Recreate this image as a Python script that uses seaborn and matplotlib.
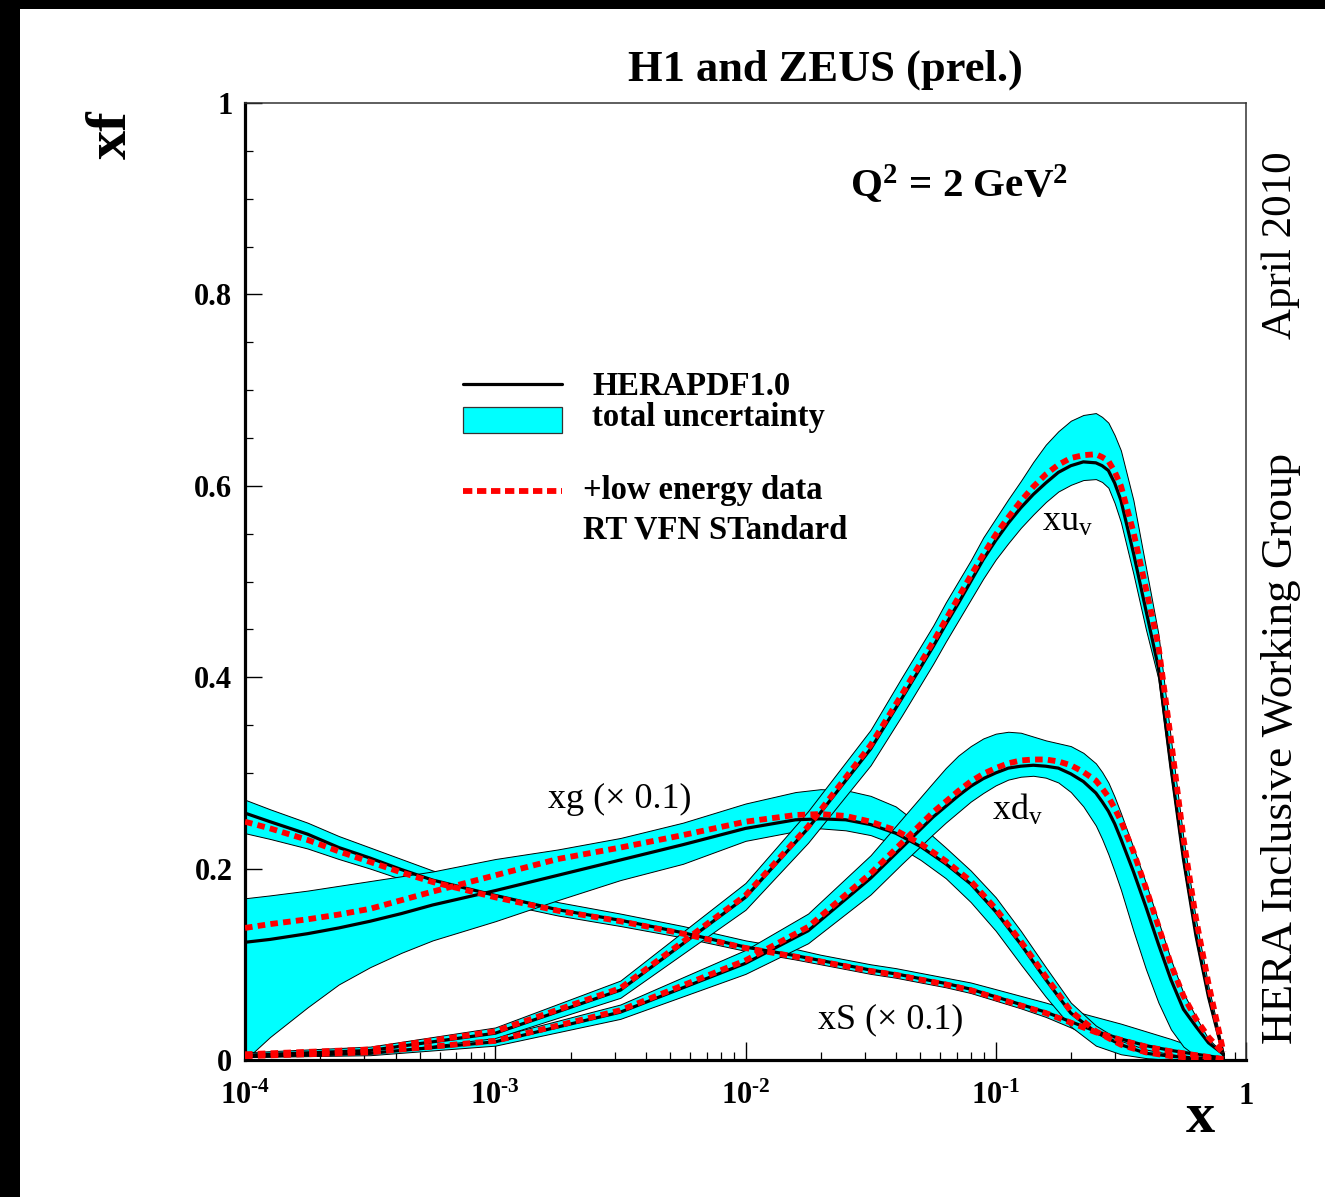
import numpy as np
import pandas as pd
import seaborn as sns
import matplotlib
matplotlib.use("Agg")
import matplotlib.pyplot as plt
from matplotlib.patches import Rectangle
from matplotlib.ticker import FixedLocator, LogLocator, MultipleLocator, NullFormatter

# ---------------- data: parton distributions at Q^2 = 2 GeV^2 ----------------
# log10(x) sampling for the valence distributions
log_x_valence = [-4, -3.5, -3, -2.5, -2, -1.75, -1.5, -1.375, -1.25, -1.2, -1.15, -1.1, -1.05,
                 -1, -0.95, -0.9, -0.85, -0.8, -0.75, -0.7, -0.65, -0.6, -0.575, -0.55, -0.525,
                 -0.5, -0.45, -0.4, -0.35, -0.3, -0.25, -0.2, -0.15, -0.09]
# log10(x) sampling for gluon and sea
log_x_sea = [-4, -3.9, -3.75, -3.625, -3.5, -3.375, -3.25, -3, -2.75, -2.5, -2.25, -2, -1.8,
             -1.7, -1.6, -1.5, -1.4, -1.3, -1.2, -1.1, -1, -0.9, -0.8, -0.7, -0.6, -0.5, -0.4,
             -0.3, -0.2, -0.09]

# xu_v
xuv_central = [0.005, 0.010, 0.028, 0.073, 0.170, 0.242, 0.325, 0.378, 0.432, 0.455, 0.477, 0.500,
               0.523, 0.543, 0.561, 0.577, 0.591, 0.603, 0.614, 0.621, 0.625, 0.624, 0.621, 0.616,
               0.603, 0.585, 0.530, 0.470, 0.410, 0.306, 0.210, 0.130, 0.066, 0.005]
xuv_upper = [0.008, 0.014, 0.034, 0.083, 0.185, 0.260, 0.345, 0.400, 0.454, 0.478, 0.500, 0.522,
             0.546, 0.566, 0.586, 0.605, 0.625, 0.643, 0.657, 0.668, 0.674, 0.676, 0.672, 0.666,
             0.653, 0.637, 0.585, 0.515, 0.445, 0.335, 0.232, 0.147, 0.077, 0.008]
xuv_lower = [0.003, 0.007, 0.023, 0.065, 0.157, 0.227, 0.308, 0.360, 0.414, 0.437, 0.459, 0.481,
             0.503, 0.523, 0.540, 0.556, 0.570, 0.583, 0.594, 0.601, 0.606, 0.607, 0.604, 0.598,
             0.582, 0.562, 0.508, 0.450, 0.398, 0.297, 0.203, 0.125, 0.062, 0.003]
xuv_lowE = [0.006, 0.011, 0.030, 0.075, 0.172, 0.244, 0.329, 0.382, 0.437, 0.460, 0.483, 0.506,
            0.528, 0.549, 0.567, 0.584, 0.599, 0.612, 0.622, 0.629, 0.632, 0.633, 0.630, 0.626,
            0.615, 0.600, 0.552, 0.493, 0.433, 0.335, 0.232, 0.148, 0.080, 0.008]

# xd_v
xdv_central = [0.004, 0.007, 0.019, 0.050, 0.101, 0.135, 0.190, 0.222, 0.254, 0.265, 0.276, 0.286,
               0.294, 0.300, 0.305, 0.307, 0.308, 0.307, 0.305, 0.299, 0.291, 0.279, 0.270, 0.260,
               0.247, 0.231, 0.197, 0.160, 0.121, 0.084, 0.053, 0.035, 0.018, 0.006]
xdv_upper = [0.006, 0.010, 0.024, 0.058, 0.115, 0.153, 0.214, 0.252, 0.290, 0.305, 0.318, 0.328,
             0.336, 0.341, 0.343, 0.342, 0.338, 0.334, 0.331, 0.328, 0.321, 0.310, 0.301, 0.290,
             0.275, 0.258, 0.222, 0.185, 0.145, 0.105, 0.070, 0.045, 0.022, 0.007]
xdv_lower = [0.003, 0.005, 0.015, 0.043, 0.090, 0.122, 0.173, 0.205, 0.236, 0.248, 0.259, 0.270,
             0.279, 0.287, 0.293, 0.296, 0.297, 0.295, 0.290, 0.280, 0.265, 0.245, 0.231, 0.215,
             0.197, 0.178, 0.135, 0.095, 0.060, 0.032, 0.014, 0.004, 0.000, 0.000]
xdv_lowE = [0.004, 0.008, 0.020, 0.052, 0.104, 0.139, 0.195, 0.227, 0.259, 0.270, 0.281, 0.291,
            0.299, 0.305, 0.310, 0.313, 0.314, 0.314, 0.312, 0.308, 0.301, 0.292, 0.284, 0.275,
            0.263, 0.250, 0.218, 0.180, 0.140, 0.100, 0.067, 0.043, 0.024, 0.007]

# xg (scaled by 0.1)
xg_central = [0.123, 0.126, 0.132, 0.138, 0.145, 0.153, 0.162, 0.177, 0.193, 0.209, 0.225, 0.242,
              0.251, 0.252, 0.251, 0.246, 0.237, 0.223, 0.205, 0.184, 0.155, 0.121, 0.084, 0.049,
              0.029, 0.016, 0.007, 0.004, 0.002, 0.000]
xg_upper = [0.169, 0.172, 0.177, 0.182, 0.187, 0.192, 0.197, 0.210, 0.220, 0.232, 0.248, 0.268,
            0.280, 0.283, 0.282, 0.276, 0.265, 0.245, 0.222, 0.198, 0.170, 0.135, 0.097, 0.060,
            0.036, 0.020, 0.011, 0.006, 0.003, 0.001]
xg_lower = [0.000, 0.024, 0.055, 0.079, 0.097, 0.112, 0.125, 0.145, 0.167, 0.188, 0.205, 0.229,
            0.239, 0.242, 0.240, 0.235, 0.225, 0.209, 0.190, 0.165, 0.135, 0.100, 0.066, 0.035,
            0.015, 0.006, 0.002, 0.000, 0.000, 0.000]
xg_lowE = [0.138, 0.142, 0.147, 0.152, 0.158, 0.167, 0.176, 0.193, 0.210, 0.222, 0.235, 0.249,
           0.256, 0.257, 0.255, 0.249, 0.240, 0.226, 0.208, 0.187, 0.158, 0.124, 0.087, 0.051,
           0.030, 0.016, 0.008, 0.004, 0.002, 0.000]

# xS (scaled by 0.1)
xs_central = [0.258, 0.249, 0.236, 0.222, 0.211, 0.199, 0.188, 0.172, 0.157, 0.146, 0.133, 0.118,
              0.109, 0.104, 0.099, 0.094, 0.090, 0.085, 0.080, 0.074, 0.066, 0.058, 0.050, 0.040,
              0.030, 0.022, 0.015, 0.010, 0.006, 0.002]
xs_upper = [0.272, 0.262, 0.248, 0.234, 0.222, 0.210, 0.198, 0.181, 0.165, 0.153, 0.140, 0.125,
            0.116, 0.110, 0.105, 0.100, 0.096, 0.091, 0.086, 0.081, 0.074, 0.067, 0.060, 0.052,
            0.045, 0.038, 0.030, 0.022, 0.013, 0.004]
xs_lower = [0.237, 0.231, 0.221, 0.210, 0.200, 0.189, 0.179, 0.165, 0.151, 0.140, 0.128, 0.114,
            0.105, 0.100, 0.095, 0.090, 0.086, 0.081, 0.076, 0.070, 0.062, 0.054, 0.045, 0.034,
            0.022, 0.012, 0.006, 0.003, 0.001, 0.000]
xs_lowE = [0.249, 0.242, 0.230, 0.218, 0.207, 0.196, 0.186, 0.170, 0.156, 0.145, 0.132, 0.117,
           0.108, 0.103, 0.098, 0.093, 0.089, 0.084, 0.079, 0.073, 0.065, 0.057, 0.049, 0.039,
           0.029, 0.021, 0.014, 0.009, 0.005, 0.001]

x_tick_values = [1e-4, 1e-3, 1e-2, 1e-1, 1]
x_tick_labels = [r"$\mathbf{10^{‐4}}$", r"$\mathbf{10^{‐3}}$", r"$\mathbf{10^{‐2}}$",
                 r"$\mathbf{10^{‐1}}$", r"$\mathbf{1}$"]
y_tick_values = [0, 0.2, 0.4, 0.6, 0.8, 1]
y_tick_labels = ["0", "0.2", "0.4", "0.6", "0.8", "1"]

# ---------------- style ----------------
sns.set_theme(style="ticks")
plt.rcParams["font.family"] = ["Liberation Serif", "DejaVu Serif"]
plt.rcParams["mathtext.fontset"] = "custom"
plt.rcParams["mathtext.rm"] = "Liberation Serif"
plt.rcParams["mathtext.it"] = "Liberation Serif:italic"
plt.rcParams["mathtext.bf"] = "Liberation Serif:bold"
for key in ["text.color", "axes.labelcolor", "xtick.color", "ytick.color", "axes.edgecolor"]:
    plt.rcParams[key] = "black"

CYAN = "#00FFFF"
RED = "#FF0000"

W, H = 1325, 1197
fig = plt.figure(figsize=(W / 100, H / 100), dpi=100)
fig.patch.set_facecolor("white")
ax = fig.add_axes([245 / W, 1 - 1060 / H, 1001 / W, 957 / H])
ax.set_facecolor("white")

curves = [
    ("xS", log_x_sea, xs_central, xs_upper, xs_lower, xs_lowE),
    ("xg", log_x_sea, xg_central, xg_upper, xg_lower, xg_lowE),
    ("xdv", log_x_valence, xdv_central, xdv_upper, xdv_lower, xdv_lowE),
    ("xuv", log_x_valence, xuv_central, xuv_upper, xuv_lower, xuv_lowE),
]

frames = []
for name, lx, c, up, lo, le in curves:
    frames.append(pd.DataFrame({"pdf": name, "x": 10.0 ** np.asarray(lx, float),
                                "central": c, "upper": up, "lower": lo, "lowE": le}))
df = pd.concat(frames, ignore_index=True)

# uncertainty bands with their thin outlines and the central fit
for name, _, _, _, _, _ in curves:
    d = df[df["pdf"] == name]
    ax.fill_between(d["x"], d["lower"], d["upper"], facecolor=CYAN,
                    edgecolor="black", linewidth=0.7, zorder=2)
    sns.lineplot(data=d, x="x", y="central", ax=ax, color="black", lw=2.3,
                 estimator=None, sort=False, zorder=3, legend=False)

# fit including low energy data
for name, _, _, _, _, _ in curves:
    d = df[df["pdf"] == name]
    sns.lineplot(data=d, x="x", y="lowE", ax=ax, color=RED, lw=4.2,
                 estimator=None, sort=False, zorder=4, legend=False)
    ax.lines[-1].set_dashes((1.3, 0.9))

ax.set_xscale("log")
ax.set_xlim(1e-4, 1)
ax.set_ylim(0, 1)
ax.set_xlabel("")
ax.set_ylabel("")

# ticks
ax.xaxis.set_major_locator(FixedLocator(x_tick_values))
ax.set_xticklabels(x_tick_labels)
ax.xaxis.set_minor_locator(LogLocator(base=10, subs=np.arange(2, 10), numticks=20))
ax.xaxis.set_minor_formatter(NullFormatter())
ax.set_yticks(y_tick_values)
ax.set_yticklabels(y_tick_labels)
ax.yaxis.set_minor_locator(MultipleLocator(0.05))

ax.tick_params(axis="x", which="major", direction="in", length=13, width=1.0,
               labelsize=22, pad=32, bottom=True, top=False, colors="black")
ax.tick_params(axis="x", which="minor", direction="in", length=6, width=0.9,
               bottom=True, top=False, colors="black")
ax.tick_params(axis="y", which="major", direction="in", length=12, width=1.0,
               labelsize=22, pad=9, left=True, right=False, colors="black")
ax.tick_params(axis="y", which="minor", direction="in", length=6, width=0.9,
               left=True, right=False, colors="black")
for lab in ax.get_xticklabels():
    lab.set_verticalalignment("baseline")
    lab.set_fontweight("bold")
for lab in ax.get_yticklabels():
    lab.set_fontweight("bold")

for side in ["left", "bottom"]:
    ax.spines[side].set_linewidth(2.3)
    ax.spines[side].set_color("black")
for side in ["top", "right"]:
    ax.spines[side].set_linewidth(1.1)
    ax.spines[side].set_color("#333333")
    ax.spines[side].set_visible(True)

# ---------------- texts ----------------
fig.text(825 / W, 1 - 70 / H, "H1 and ZEUS (prel.)", ha="center", va="center",
         fontsize=32, fontweight="bold")
fig.text(112 / W, 1 - 135 / H, "xf", ha="center", va="center", rotation=90,
         fontsize=42, fontweight="bold")
fig.text(1200 / W, 1 - 1118 / H, "x", ha="center", va="center",
         fontsize=42, fontweight="bold")
fig.text(1281 / W, 1 - 245 / H, "April 2010", ha="center", va="center",
         rotation=90, fontsize=31)
fig.text(1281 / W, 1 - 748 / H, "HERA Inclusive Working Group", ha="center",
         va="center", rotation=90, fontsize=32.5)

ax.text(0.7133, 0.9143, r"$\mathbf{Q^2\,=\,2\ GeV^2}$", transform=ax.transAxes,
        ha="center", va="center", fontsize=29.5)

ax.text(0.8217, 0.5622, r"$\mathrm{xu_v}$", transform=ax.transAxes,
        ha="center", va="center", fontsize=26)
ax.text(0.7722, 0.2612, r"$\mathrm{xd_v}$", transform=ax.transAxes,
        ha="center", va="center", fontsize=26)
ax.text(0.3746, 0.2717, "xg (× 0.1)", transform=ax.transAxes,
        ha="center", va="center", fontsize=26)
ax.text(0.6454, 0.0418, "xS (× 0.1)", transform=ax.transAxes,
        ha="center", va="center", fontsize=26)

# legend
tr = ax.transAxes
ax.plot([0.2178, 0.3167], [0.7064, 0.7064], color="black", lw=2.3, transform=tr,
        zorder=6, clip_on=False)
ax.add_patch(Rectangle((0.2178, 0.6552), 0.0989, 0.0271, transform=tr,
                       facecolor=CYAN, edgecolor="#333333", lw=0.9, zorder=6))
leg_red, = ax.plot([0.2178, 0.3167], [0.5946, 0.5946], color=RED, lw=4.2,
                   transform=tr, zorder=6, clip_on=False)
leg_red.set_dashes((1.6, 0.8))
ax.text(0.3467, 0.7035, "HERAPDF1.0", transform=tr, ha="left", va="center",
        fontsize=23.5, fontweight="bold")
ax.text(0.3467, 0.6710, "total uncertainty", transform=tr, ha="left", va="center",
        fontsize=23.5, fontweight="bold")
ax.text(0.3377, 0.5956, "+low energy data", transform=tr, ha="left", va="center",
        fontsize=23.5, fontweight="bold")
ax.text(0.3377, 0.5538, "RT VFN STandard", transform=tr, ha="left", va="center",
        fontsize=23.5, fontweight="bold")

# black frame strips on the left and top edges
fig.patches.append(Rectangle((0, 0), 20 / W, 1, transform=fig.transFigure,
                             facecolor="black", edgecolor="none", zorder=0))
fig.patches.append(Rectangle((0, 1 - 9 / H), 1, 9 / H, transform=fig.transFigure,
                             facecolor="black", edgecolor="none", zorder=0))

fig.savefig("out.png", dpi=100, facecolor="white")
